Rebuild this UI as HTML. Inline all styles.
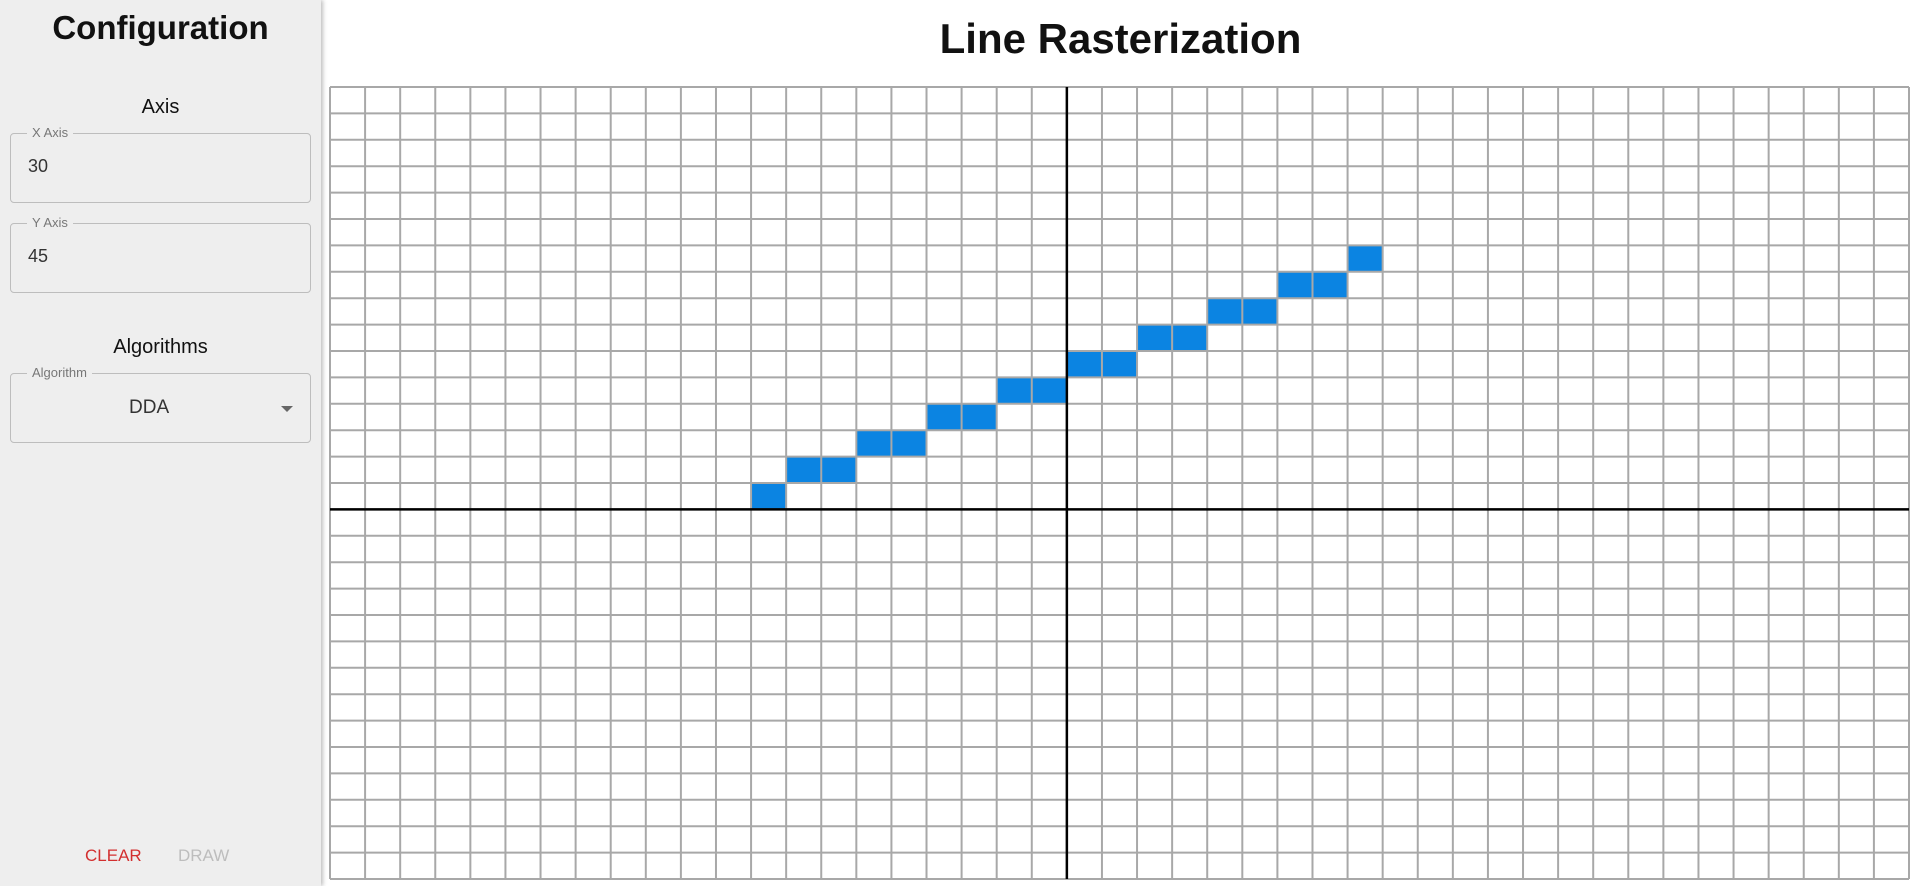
<!DOCTYPE html>
<html><head><meta charset="utf-8"><style>
body{margin:0;width:1920px;height:886px;overflow:hidden;background:#fff;font-family:"Liberation Sans",sans-serif;position:relative}
#side{position:absolute;left:0;top:0;width:321px;height:886px;background:#eeeeee;box-shadow:2px 0 4px rgba(0,0,0,0.25)}
.h{position:absolute;left:0;width:321px;text-align:center;color:#111}
.box{position:absolute;left:10px;width:299px;height:68px;border:1px solid #bdbdbd;border-radius:4px}
.lbl{position:absolute;left:16px;top:-9px;background:#eeeeee;padding:0 5px;font-size:13px;color:#777}
.val{position:absolute;left:17px;top:22px;font-size:18px;color:#333}
.btn{position:absolute;top:846px;font-size:17px}
</style></head><body>
<div id="side">
<div class="h" style="top:9px;font-size:33px;font-weight:bold">Configuration</div>
<div class="h" style="top:96px;font-size:20px">Axis</div>
<div class="box" style="top:133px"><span class="lbl">X Axis</span><span class="val">30</span></div>
<div class="box" style="top:223px"><span class="lbl">Y Axis</span><span class="val">45</span></div>
<div class="h" style="top:336px;font-size:20px">Algorithms</div>
<div class="box" style="top:373px"><span class="lbl">Algorithm</span><span class="val" style="left:118px;top:23px;font-size:19px">DDA</span><span style="position:absolute;left:270px;top:32px;border-left:6px solid transparent;border-right:6px solid transparent;border-top:6px solid #666"></span></div>
<div class="btn" style="left:85px;color:#d32f2f">CLEAR</div>
<div class="btn" style="left:178px;color:#bdbdbd">DRAW</div>
</div>
<div style="position:absolute;left:321px;width:1599px;top:15px;text-align:center;font-size:42px;font-weight:bold;color:#111">Line Rasterization</div>
<svg id="grid" width="1920" height="886" style="position:absolute;left:0;top:0"></svg>
<script>
const cols = 45;
const rows = 30;
const originCol = 21;
const originRow = 16;
const pixelX = [-9,-8,-7,-6,-5,-4,-3,-2,-1,0,1,2,3,4,5,6,7,8];
const pixelY = [0,1,1,2,2,3,3,4,4,5,5,6,6,7,7,8,8,9];
const L=330,T=87,W=1579,H=792;
const cw=W/cols, ch=H/rows;
const sx=i=>L+(originCol+i)*cw;
const sy=j=>T+(originRow-j-1)*ch;
const svg=document.getElementById('grid');
const NS='http://www.w3.org/2000/svg';
function mk(t,a){const e=document.createElementNS(NS,t);for(const k in a)e.setAttribute(k,a[k]);svg.appendChild(e);return e;}
pixelX.forEach((x,k)=>{
 const r=mk('rect',{x:sx(x),y:sy(pixelY[k]),width:cw,height:ch,fill:'#0b84e2'});
 
 
});
for(let i=0;i<=cols;i++){const l=mk('line',{x1:L+i*cw,x2:L+i*cw,y1:T,y2:T+H,stroke:'#a8a8a8','stroke-width':2});
 
 }
for(let j=0;j<=rows;j++){const l=mk('line',{x1:L,x2:L+W,y1:T+j*ch,y2:T+j*ch,stroke:'#a8a8a8','stroke-width':2});
 
 }
const ya=mk('line',{x1:L+originCol*cw,x2:L+originCol*cw,y1:T,y2:T+H,stroke:'#000','stroke-width':2.5});


const xa=mk('line',{x1:L,x2:L+W,y1:T+originRow*ch,y2:T+originRow*ch,stroke:'#000','stroke-width':2.5});


</script>
</body></html>
